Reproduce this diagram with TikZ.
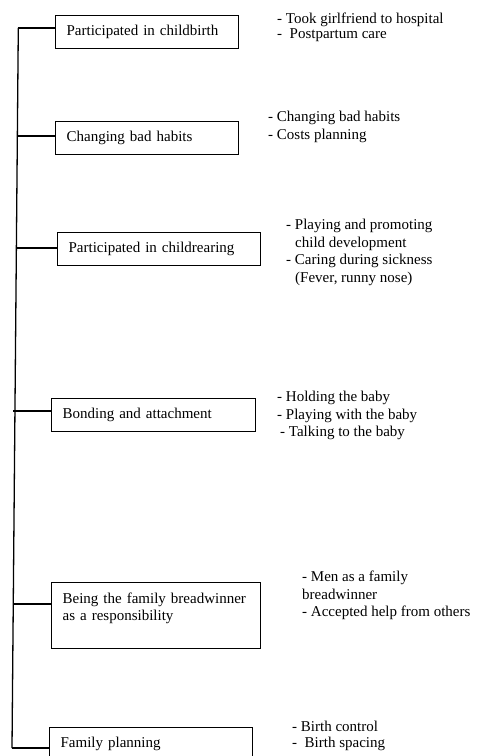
\documentclass[tikz,border=0pt]{standalone}
\usepackage{fontspec}
\setmainfont{Liberation Serif}
\usetikzlibrary{
    positioning,
    calc
}
\tikzset{
  box/.style   = {draw, line width=1.3pt, minimum height=33pt, inner xsep=11pt,
                  align=left, anchor=north west, font=\fontsize{15}{17.5}\selectfont},
  items/.style = {inner sep=0pt, align=left, anchor=north west,
                  font=\fontsize{15}{17.5}\selectfont},
  link/.style  = {line width=1.3pt}
}

\begin{document}
\begin{tikzpicture}[x=1pt,y=-1pt]
\clip (0,0) rectangle (478,756);
% theme boxes
\node[box, text width=161pt] (b1) at (55,15)  {Participated in childbirth};
\node[box, text width=161pt] (b2) at (55,121) {Changing bad habits};
\node[box, text width=181pt] (b3) at (57,232) {Participated in childrearing};
\node[box, text width=182pt] (b4) at (51,398) {Bonding and attachment};
\node[box, text width=187pt, minimum height=66pt] (b5) at (51,582)
     {Being the family breadwinner\\as a responsibility\\~};
\node[box, text width=181pt] (b6) at (49,727) {Family planning};
% sub-themes
\node[items] (s1) at (277,13)  {- Took girlfriend to hospital\\[-3pt]-~ Postpartum care};
\node[items] (s2) at (268,111) {- Changing bad habits\\- Costs planning};
\node[items] (s3) at (286,219) {- Playing and promoting\\\hspace{9pt}child development\\
                                - Caring during sickness\\\hspace{9pt}(Fever, runny nose)};
\node[items] (s4) at (277,391) {- Holding the baby\\- Playing with the baby\\\hspace{3pt}- Talking to the baby};
\node[items] (s5) at (302,571) {- Men as a family\\breadwinner\\- Accepted help from others};
\node[items] (s6) at (292,721) {- Birth control\\[-2pt]-~ Birth spacing};
% trunk
\coordinate (j1) at (18.3,28);
\coordinate (j2) at (17.4,136);
\coordinate (j3) at (16.4,248);
\coordinate (j4) at (13,411);
\coordinate (j5) at (13.3,604);
\coordinate (j6) at (12,748);
\draw[link] (j1) -- (j6);
\foreach \i in {1,...,6}
  \draw[link] (j\i) -- (j\i -| b\i.west);
\end{tikzpicture}
\end{document}
